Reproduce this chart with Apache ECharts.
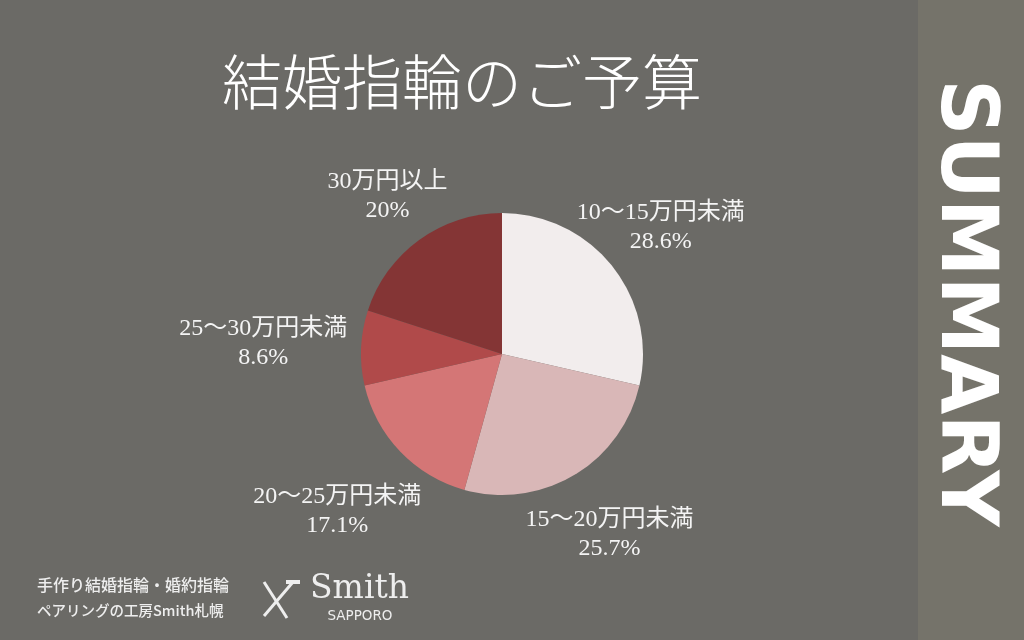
<!DOCTYPE html>
<html><head><meta charset="utf-8">
<script src="https://cdn.jsdelivr.net/npm/echarts@6/dist/echarts.min.js"></script>
<style>html,body{margin:0;padding:0;background:#6b6a66}#c{width:1024px;height:640px}</style>
</head><body><div id="c"></div>
<script>
const categories = ['10～15万円未満', '15～20万円未満', '20～25万円未満', '25～30万円未満', '30万円以上'];
const values = [28.6, 25.7, 17.1, 8.6, 20];
const valueLabels = ['28.6%', '25.7%', '17.1%', '8.6%', '20%'];
const colors = ['#f2eded', '#d9b7b7', '#d47676', '#b04a4a', '#843535'];
const labelDist = [203, 210, 228, 239, 195];

const chart = echarts.init(document.getElementById('c'), null, {renderer: 'canvas'});
const serif = '"Liberation Serif","DejaVu Serif","Noto Sans CJK JP",serif';
const total = values.reduce((a, b) => a + b, 0);
const cx = 502, cy = 354;
function midAngle(i) {
  let s = 0;
  for (let k = 0; k < i; k++) s += values[k];
  return (s + values[i] / 2) / total * Math.PI * 2;
}
chart.setOption({
  backgroundColor: '#6b6a66',
  animation: false,
  graphic: [
    {type: 'rect', shape: {x: 918, y: 0, width: 106, height: 640}, style: {fill: '#75736a'}},
    {type: 'text', x: 962, y: 303, rotation: -Math.PI / 2,
      style: {text: 'SUMMARY', fill: '#ffffff', font: 'bold 78px "DejaVu Sans", sans-serif', align: 'center', verticalAlign: 'middle'}},
    {type: 'text', x: 462, y: 82,
      style: {text: '結婚指輪のご予算', fill: '#ffffff', font: '300 60px "Noto Sans CJK JP", serif', align: 'center', verticalAlign: 'middle'}},
    {type: 'text', x: 37, y: 585,
      style: {text: '手作り結婚指輪・婚約指輪', fill: '#eeeeee', font: '500 16px "Noto Sans CJK JP"', verticalAlign: 'middle'}},
    {type: 'text', x: 37, y: 610,
      style: {text: 'ペアリングの工房Smith札幌', fill: '#eeeeee', font: '500 14.5px "Noto Sans CJK JP"', verticalAlign: 'middle'}},
    {type: 'line', shape: {x1: 264, y1: 582, x2: 287, y2: 618}, style: {stroke: '#eeeeee', lineWidth: 3}},
    {type: 'line', shape: {x1: 293, y1: 582, x2: 264, y2: 616}, style: {stroke: '#eeeeee', lineWidth: 3}},
    {type: 'line', shape: {x1: 286, y1: 582, x2: 300, y2: 582}, style: {stroke: '#eeeeee', lineWidth: 4}},
    {type: 'text', x: 310, y: 589,
      style: {text: 'Smith', fill: '#eeeeee', font: '33px "DejaVu Serif", serif', verticalAlign: 'middle'}},
    {type: 'text', x: 360, y: 616,
      style: {text: 'SAPPORO', fill: '#eeeeee', font: '13.5px "DejaVu Sans", sans-serif', align: 'center', verticalAlign: 'middle'}}
  ],
  series: [{
    type: 'pie',
    center: [cx, cy],
    radius: [0, 141],
    startAngle: 90,
    clockwise: true,
    avoidLabelOverlap: false,
    data: categories.map((c, i) => ({name: c, value: values[i], itemStyle: {color: colors[i]}})),
    label: {
      show: true,
      position: 'outside',
      formatter: p => p.name + '\n' + valueLabels[p.dataIndex],
      color: '#f4f4f4',
      fontFamily: serif,
      fontSize: 24,
      lineHeight: 29,
      align: 'center'
    },
    labelLine: {show: false},
    labelLayout: function (p) {
      const a = midAngle(p.dataIndex);
      const d = labelDist[p.dataIndex];
      return {x: cx + d * Math.sin(a), y: cy - d * Math.cos(a), align: 'center', verticalAlign: 'middle'};
    },
    emphasis: {disabled: true}
  }]
});
</script></body></html>
